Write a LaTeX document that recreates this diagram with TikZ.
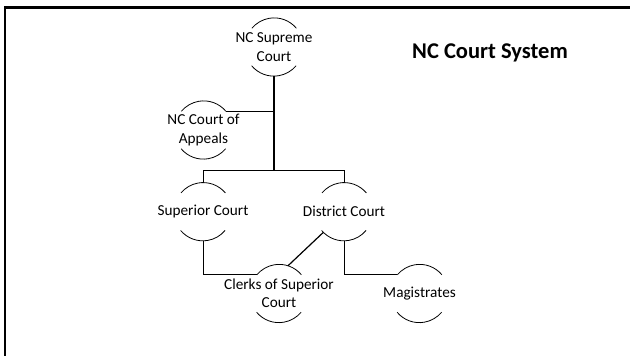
\documentclass[tikz,border=0pt]{standalone}
\usepackage{fontspec}
\setmainfont{Carlito}
\begin{document}
\begin{tikzpicture}[x=1bp,y=1bp,
  court/.style={circle,minimum size=58bp,inner sep=0pt,draw=none},
  lbl/.style={align=center,font=\fontsize{15.3}{18.4}\selectfont,inner sep=0pt,text=black},
  arcline/.style={line width=0.8bp,black},
  conn/.style={line width=0.9bp,black},
  frame/.style={line width=2.5bp,black}]
\useasboundingbox (0,0) rectangle (630,356);
% frame
\coordinate (fa) at (630,348.5);
\coordinate (fb) at (5,348.5);
\coordinate (fc) at (5,0);
\draw[frame] (fa) -- (fb) -- (fc);
% courts
\node[court] (sup) at (274,309) {};
\node[court] (app) at (203.5,226) {};
\node[court] (sc) at (203,144.3) {};
\node[court] (dc) at (344,144.3) {};
\node[court] (ck) at (279,62.5) {};
\node[court] (mg) at (419.5,62.5) {};
\foreach \n in {sup,app,sc,dc,ck,mg}{
  \draw[arcline] (\n.40) arc[start angle=40,end angle=140,radius=29bp];
  \draw[arcline] (\n.220) arc[start angle=220,end angle=320,radius=29bp];
}
\node[lbl] (supt) at (sup) {NC Supreme\\Court};
\node[lbl] (appt) at (app) {NC Court of\\Appeals};
\node[lbl] (sct) at (sc) {Superior Court};
\node[lbl] (dct) at (dc) {District Court};
\node[lbl] (ckt) at (ck) {Clerks of Superior\\Court};
\node[lbl] (mgt) at (mg) {Magistrates};
\node[font=\fontsize{22.6}{27}\selectfont\bfseries,inner sep=0pt] (title) at (490,303) {NC Court System};
% connectors
\coordinate (j) at (274,185.3);
\draw[conn,line width=1.3bp] (sup.south) -- (j);
\draw[conn] (app.40) -- (app.40 -| sup.south);
\draw[conn] (sc.north) |- (j) -| (dc.north);
\draw[conn] (sc.south) |- (ck.140);
\draw[conn] (dc.south) |- (mg.140);
\draw[conn,line width=1.2bp] (dc.225) -- (ck.72);
\end{tikzpicture}
\end{document}
